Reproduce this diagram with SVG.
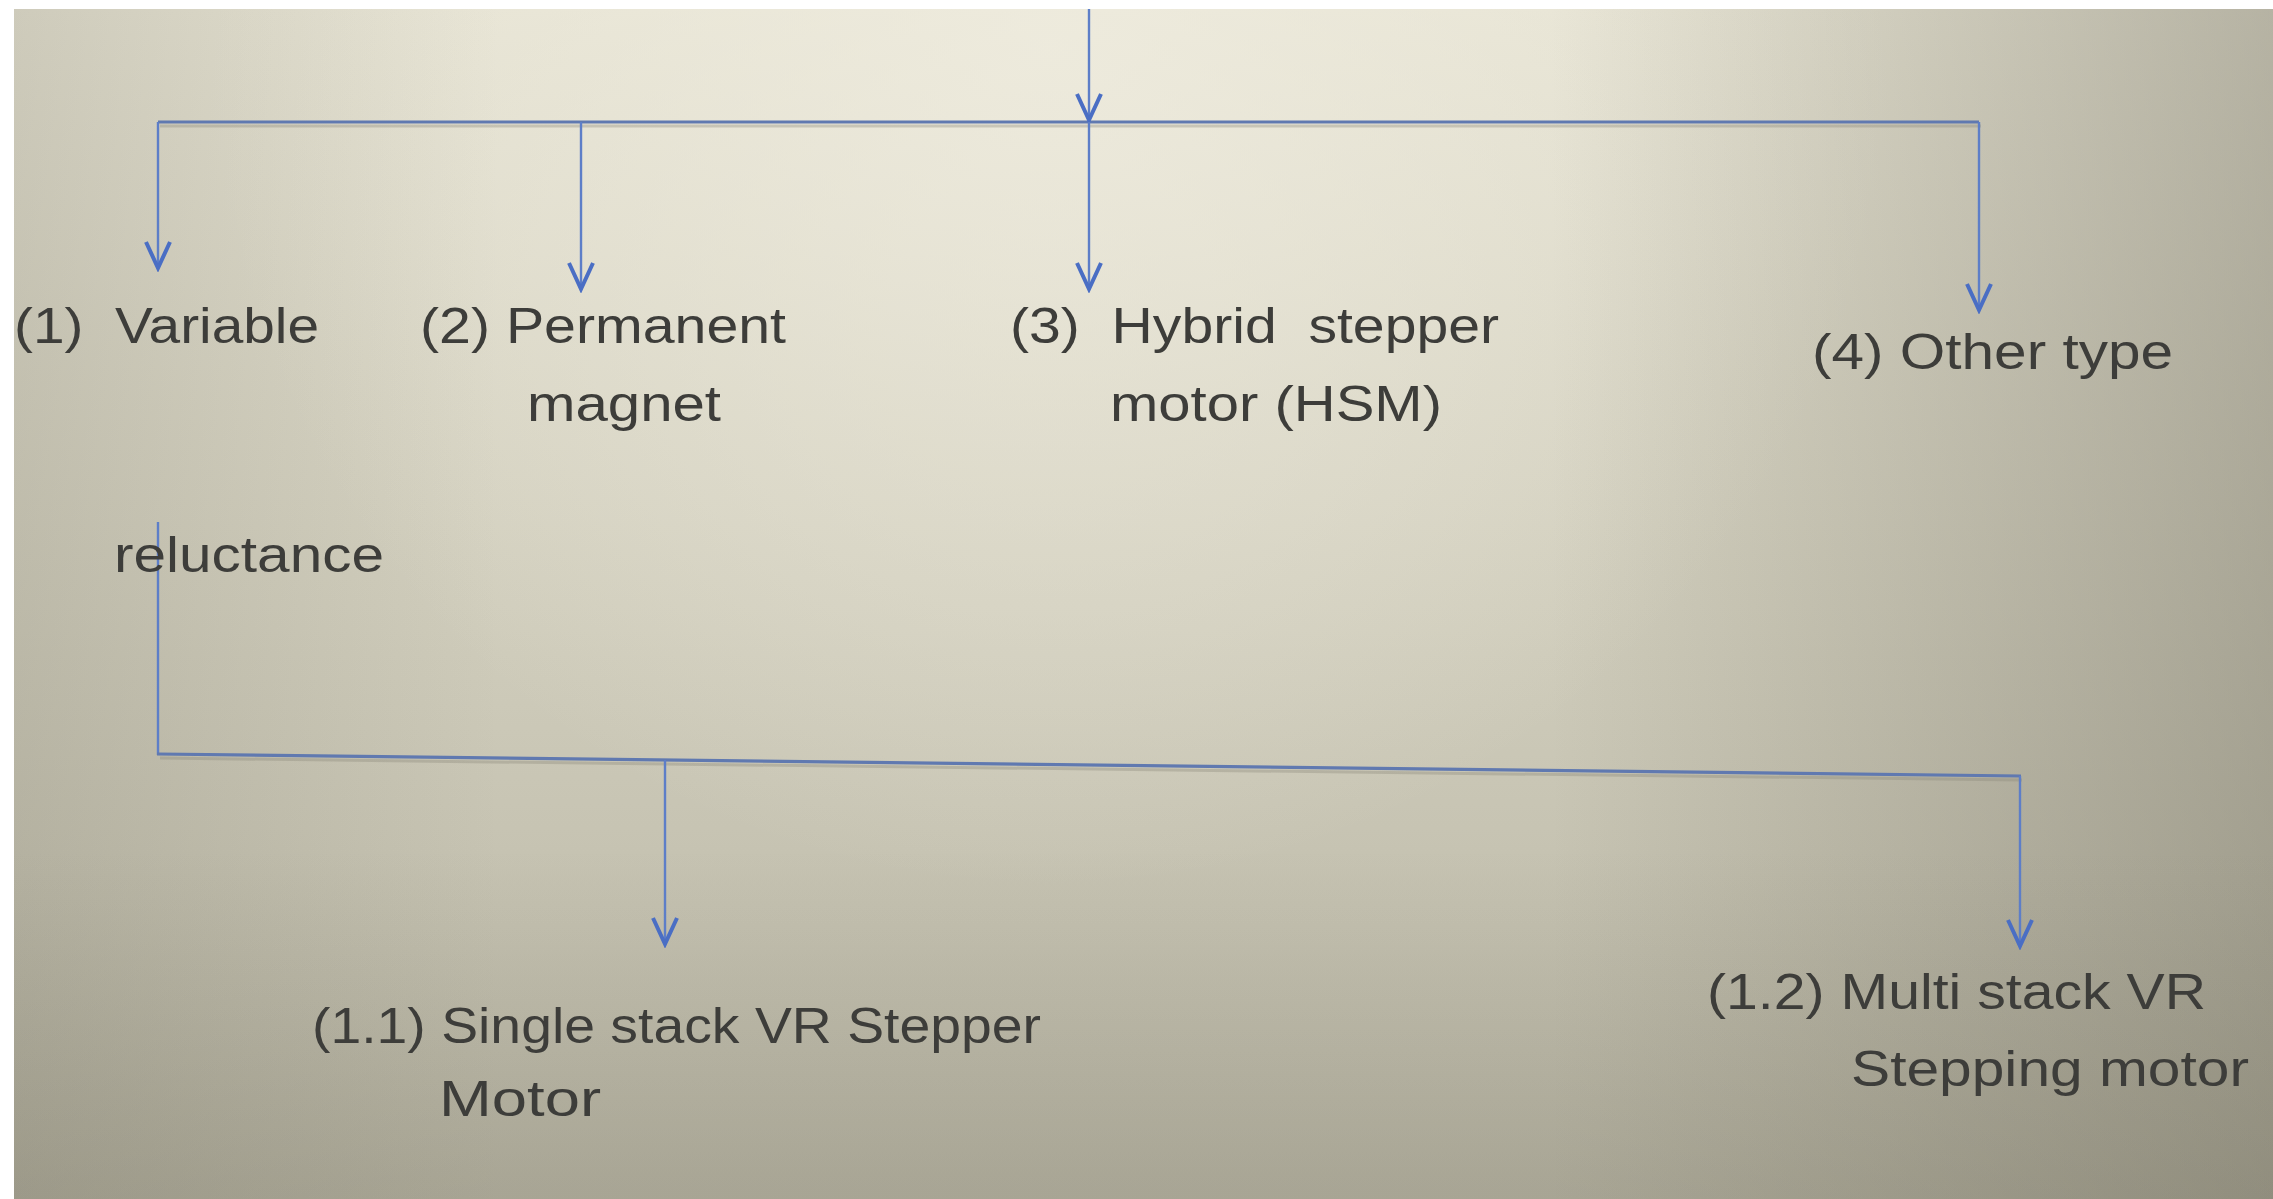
<svg xmlns="http://www.w3.org/2000/svg" width="2273" height="1199" viewBox="0 0 2273 1199">
<defs>
<linearGradient id="bgV" x1="0" y1="0" x2="0" y2="1">
<stop offset="0" stop-color="#e6e3d3"/>
<stop offset="0.5" stop-color="#d0cdbc"/>
<stop offset="1" stop-color="#b8b5a4"/>
</linearGradient>
<radialGradient id="hi" gradientUnits="userSpaceOnUse" cx="1050" cy="40" r="850">
<stop offset="0" stop-color="#f0ede0" stop-opacity="0.75"/>
<stop offset="1" stop-color="#f0ede0" stop-opacity="0"/>
</radialGradient>
<linearGradient id="rightV" gradientUnits="userSpaceOnUse" x1="1550" y1="0" x2="2273" y2="0">
<stop offset="0" stop-color="#6e6b5c" stop-opacity="0"/>
<stop offset="1" stop-color="#6e6b5c" stop-opacity="0.4"/>
</linearGradient>
<linearGradient id="leftV" gradientUnits="userSpaceOnUse" x1="14" y1="0" x2="500" y2="0">
<stop offset="0" stop-color="#6e6b5c" stop-opacity="0.2"/>
<stop offset="1" stop-color="#6e6b5c" stop-opacity="0"/>
</linearGradient>
<linearGradient id="botV" gradientUnits="userSpaceOnUse" x1="0" y1="850" x2="0" y2="1199">
<stop offset="0" stop-color="#6e6b5c" stop-opacity="0"/>
<stop offset="1" stop-color="#6e6b5c" stop-opacity="0.22"/>
</linearGradient>
<marker id="arr" markerUnits="userSpaceOnUse" viewBox="-34 -18 38 36" markerWidth="38" markerHeight="36" refX="0" refY="0" orient="auto">
<path d="M -26 -12 L 0 0 L -26 12" fill="none" stroke="#4a6ec4" stroke-width="4" stroke-linejoin="miter"/>
</marker>
</defs>
<style>
.lbl { font-family: "Liberation Sans", Arial, sans-serif; font-size: 50px; fill: #3d3d3a; }
.ln { fill: none; stroke: #5d7ec8; stroke-width: 2.4; }
.bar { fill: none; stroke: #6079b0; stroke-width: 3.2; }
.shadow { fill: none; stroke: #8a8878; stroke-width: 3; stroke-opacity: 0.35; }
</style>
<rect x="0" y="0" width="2273" height="1199" fill="#ffffff"/>
<g id="background">
<rect x="14" y="9" width="2259" height="1190" fill="url(#bgV)"/>
<rect x="14" y="9" width="2259" height="1190" fill="url(#hi)"/>
<rect x="14" y="9" width="2259" height="1190" fill="url(#rightV)"/>
<rect x="14" y="9" width="2259" height="1190" fill="url(#leftV)"/>
<rect x="14" y="9" width="2259" height="1190" fill="url(#botV)"/>
</g>
<g id="connectors">
<line class="shadow" x1="160" y1="126" x2="1981" y2="126"/>
<line class="bar" x1="158" y1="122" x2="1979" y2="122"/>
<line class="ln" x1="1089" y1="9" x2="1089" y2="120" marker-end="url(#arr)"/>
<line class="ln" x1="1089" y1="122" x2="1089" y2="289" marker-end="url(#arr)"/>
<line class="ln" x1="158" y1="122" x2="158" y2="268" marker-end="url(#arr)"/>
<line class="ln" x1="581" y1="122" x2="581" y2="289" marker-end="url(#arr)"/>
<line class="ln" x1="1979" y1="122" x2="1979" y2="310" marker-end="url(#arr)"/>
<line class="ln" x1="158" y1="522" x2="158" y2="755"/>
<line class="shadow" x1="160" y1="758" x2="2022" y2="780"/>
<line class="bar" x1="157" y1="754" x2="2021" y2="776"/>
<line class="ln" x1="665" y1="760" x2="665" y2="944" marker-end="url(#arr)"/>
<line class="ln" x1="2020" y1="776" x2="2020" y2="946" marker-end="url(#arr)"/>
</g>
<g id="node-variable">
<text class="lbl" x="14" y="343" textLength="305" lengthAdjust="spacingAndGlyphs" xml:space="preserve">(1)  Variable</text>
<text class="lbl" x="114" y="572" textLength="270" lengthAdjust="spacingAndGlyphs">reluctance</text>
</g>
<g id="node-permanent">
<text class="lbl" x="420" y="343" textLength="366" lengthAdjust="spacingAndGlyphs">(2) Permanent</text>
<text class="lbl" x="527" y="421" textLength="194" lengthAdjust="spacingAndGlyphs">magnet</text>
</g>
<g id="node-hybrid">
<text class="lbl" x="1010" y="343" textLength="489" lengthAdjust="spacingAndGlyphs" xml:space="preserve">(3)  Hybrid  stepper</text>
<text class="lbl" x="1110" y="421" textLength="332" lengthAdjust="spacingAndGlyphs">motor (HSM)</text>
</g>
<g id="node-other">
<text class="lbl" x="1812" y="369" textLength="361" lengthAdjust="spacingAndGlyphs">(4) Other type</text>
</g>
<g id="node-single-stack">
<text class="lbl" x="312" y="1043" textLength="729" lengthAdjust="spacingAndGlyphs">(1.1) Single stack VR Stepper</text>
<text class="lbl" x="439" y="1116" textLength="162" lengthAdjust="spacingAndGlyphs">Motor</text>
</g>
<g id="node-multi-stack">
<text class="lbl" x="1707" y="1009" textLength="499" lengthAdjust="spacingAndGlyphs">(1.2) Multi stack VR</text>
<text class="lbl" x="1851" y="1086" textLength="398" lengthAdjust="spacingAndGlyphs">Stepping motor</text>
</g>
</svg>
